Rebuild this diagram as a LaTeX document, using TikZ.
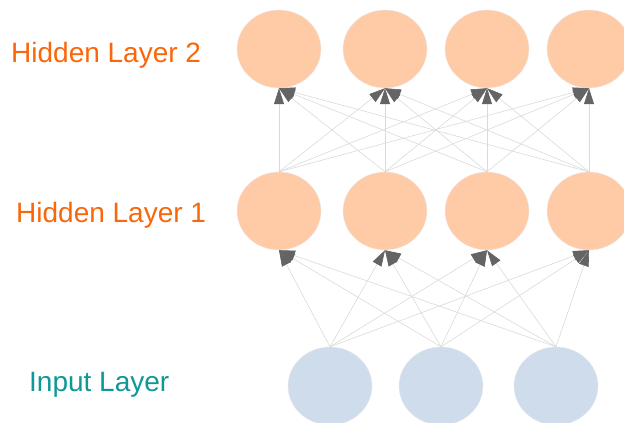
\documentclass[tikz,border=0pt]{standalone}
\usepackage{fontspec}
\setmainfont{Liberation Sans}
\usetikzlibrary{positioning}
\usetikzlibrary{arrows.meta, shapes.geometric}

\definecolor{hidcol}{RGB}{255,203,167}
\definecolor{incol}{RGB}{206,220,236}
\definecolor{hidtext}{RGB}{250,102,10}
\definecolor{intext}{RGB}{16,152,152}
\definecolor{linkcol}{RGB}{218,218,218}
\definecolor{tipcol}{RGB}{100,100,100}

\begin{document}
\begin{tikzpicture}[x=1pt, y=-1pt]

 \tikzset{neuron/.style={
 		ellipse,
 		minimum width=84pt,
 		minimum height=78pt,
 		inner sep=0pt,
 		draw=black!8,
 		line width=0.4pt
 	},
 	hidden neuron/.style={neuron, fill=hidcol},
 	input neuron/.style={neuron, fill=incol},
 	layer label/.style={anchor=west, inner sep=0pt, font=\fontsize{28}{32}\selectfont},
 	link/.style={draw=linkcol, line width=0.6pt,
 		-{Triangle[length=16pt, width=10pt, color=tipcol]}}
 }
 \useasboundingbox (0,0) rectangle (624,423);

 % layers
 \foreach \x [count=\i] in {279,385,487,589} {
 	\node[hidden neuron] (hid2-\i) at (\x,49) {};
 	\node[hidden neuron] (hid1-\i) at (\x,211) {};
 }
 \foreach \x [count=\i] in {330,441,556} {
 	\node[input neuron] (in-\i) at (\x,386) {};
 }

 % labels
 \node[layer label, text=hidtext] (lab-hid2) at (11,55) {Hidden Layer 2};
 \node[layer label, text=hidtext] (lab-hid1) at (16,215) {Hidden Layer 1};
 \node[layer label, text=intext] (lab-in) at (29,385) {Input Layer};

 % connections
 \foreach \i in {1,...,3} {
 	\foreach \j in {1,...,4} {
 		\draw[link] (in-\i.north) -- (hid1-\j.south);
 	}
 }
 \foreach \i in {1,...,4} {
 	\foreach \j in {1,...,4} {
 		\draw[link] (hid1-\i.north) -- (hid2-\j.south);
 	}
 }
\end{tikzpicture}
\end{document}
